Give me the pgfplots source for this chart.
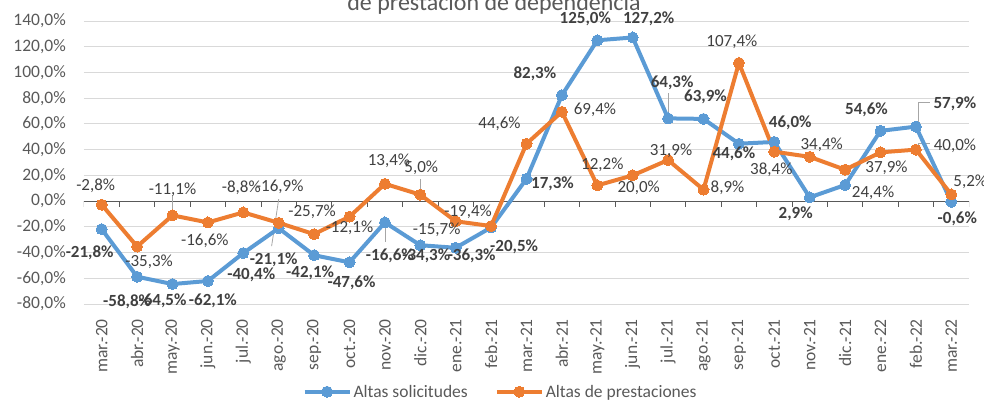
\documentclass[border=0pt]{standalone}
\usepackage{fontspec}
\setmainfont{Carlito}
\usepackage{pgfplots}
\usepackage{pgfplotstable}
\pgfplotsset{compat=1.18}
\definecolor{cblue}{HTML}{5B9BD5}
\definecolor{corange}{HTML}{ED7D31}
\definecolor{tgray}{HTML}{595959}
\definecolor{lgray}{HTML}{404040}
\definecolor{ggray}{HTML}{D9D9D9}
\definecolor{leader}{HTML}{A6A6A6}

\pgfplotstableread{
x y dx dy
0 -21.8 -12 -24
1 -58.8 -10 -25
2 -64.5 -10 -17
3 -62.1 5 -20
4 -40.4 8 -22
5 -21.1 -5 -32
6 -42.1 -4 -18
7 -47.6 2 -20
8 -16.6 5 -33
9 -34.3 6 -11
10 -36.3 16 -8
11 -20.5 23 -19
12 17.3 26 -5
13 82.3 -27 21
14 125.0 -12 22
15 127.2 16 19
16 64.3 4 36
17 63.9 2 22
18 44.6 -5 -10
19 46.0 16 19
20 2.9 -14 -16
21 12.5 0 0
22 54.6 -14 21
23 57.9 39 23
24 -0.6 6 -17
}\blueT

\pgfplotstableread{
x y dx dy
0 -2.8 -6 19
1 -35.3 12 -15
2 -11.1 0 26
3 -16.6 -3 -18
4 -8.8 -2 25
5 -16.9 1 36
6 -25.7 -2 22
7 -12.1 0 -11
8 13.4 4 23
9 5.0 1 27
10 -15.7 -19 -8
11 -19.4 -23 14
12 44.6 -27 20
13 69.4 33 2
14 12.2 5 21
15 20.0 6 -12
16 31.9 3 9
17 8.9 24 2
18 107.4 -7 21
19 38.4 -3 -18
20 34.4 12 12
21 24.4 28 -23
22 37.9 6 -15
23 40.0 39 4
24 5.2 19 13
}\orangeT

\newcommand{\fs}{\fontsize{17.5}{20}\selectfont}
\newcommand{\fl}{\fontsize{17}{20}\selectfont}

\begin{document}
\begin{tikzpicture}
\useasboundingbox (-84pt,-98pt) rectangle (900pt,304pt);
\clip (-84pt,-98pt) rectangle (900pt,304pt);
\begin{axis}[
  /pgf/number format/assume math mode=true,
  scale only axis,
  width=885pt, height=283pt,
  xmin=-0.5, xmax=24.5,
  ymin=-80, ymax=140,
  ytick={-80,-60,...,140},
  xtick={0,...,24},
  xticklabels={mar.-20,abr.-20,may.-20,jun.-20,jul.-20,ago.-20,sep.-20,oct.-20,nov.-20,dic.-20,ene.-21,feb.-21,mar.-21,abr.-21,may.-21,jun.-21,jul.-21,ago.-21,sep.-21,oct.-21,nov.-21,dic.-21,ene.-22,feb.-22,mar.-22},
  yticklabel={\pgfmathprintnumber[fixed,fixed zerofill,precision=1,use comma]{\tick}\%},
  ymajorgrids,
  grid style={ggray, line width=0.9pt},
  axis line style={draw=none},
  major tick length=0pt,
  tick label style={font=\fs, text=tgray, inner sep=0pt},
  xticklabel style={rotate=90, anchor=east},
  xticklabel shift=15pt,
  yticklabel shift=18pt,
  legend columns=2,
  legend style={at={(0.5,-0.310)}, anchor=center, xshift=-26pt, draw=none, fill=none,
    font=\fs, text=tgray, inner sep=0pt,
    /tikz/every even column/.append style={column sep=25pt}},
  legend image code/.code={\draw[mark repeat=2,mark phase=2,#1] plot coordinates {(0pt,0pt) (22.5pt,0pt) (45pt,0pt)};},
  lbl/.style={forget plot, draw=none, mark=none, point meta=y,
    nodes near coords={\pgfmathprintnumber[fixed,fixed zerofill,precision=1,use comma]{\pgfplotspointmeta}\%},
    visualization depends on={\thisrow{dx}\as\ldx},
    visualization depends on={\thisrow{dy}\as\ldy},
    every node near coord/.append style={text=lgray, anchor=center, inner sep=0pt, xshift=\ldx pt, yshift=\ldy pt}},
]
% zero axis line and tick marks
\draw[tgray, line width=1pt] (axis cs:-0.5,0) -- (axis cs:24.5,0);
\pgfplotsinvokeforeach{-0.5,0.5,...,24.5}{\draw[tgray, line width=1pt] (axis cs:#1,0) -- ++(0pt,-6pt);}
% leader lines
\draw[leader, line width=0.8pt] (axis cs:8,-20) -- (axis cs:8,-32);
\draw[leader, line width=0.8pt] (axis cs:2,4.6) -- (axis cs:2,-8.5);
\draw[leader, line width=0.8pt] (axis cs:5,1.5) -- (axis cs:4.8,-35);
\draw[leader, line width=0.8pt] (axis cs:9,17) -- (axis cs:9,7);
\draw[leader, line width=0.8pt] (axis cs:16,84) -- (axis cs:16,65);
\draw[leader, line width=0.8pt] (axis cs:23.06,61) -- (axis cs:23.06,76.4) -- (axis cs:23.4,76.4);
\draw[leader, line width=0.8pt] (axis cs:23.06,40.2) -- (axis cs:23.06,44.8) -- (axis cs:23.4,44.8);

\addplot[cblue, line width=4pt, mark=*, mark size=5.5pt, mark options={fill=cblue, draw=cblue, line width=0pt}]
  table[x=x, y=y] {\blueT};
\addlegendentry{Altas solicitudes}

\addplot[corange, line width=4pt, mark=*, mark size=5.5pt, mark options={fill=corange, draw=corange, line width=0pt}]
  table[x=x, y=y] {\orangeT};
\addlegendentry{Altas de prestaciones}

\addplot[lbl, skip coords between index={21}{22}, every node near coord/.append style={font=\fl\bfseries}]
  table[x=x, y=y] {\blueT};
\addplot[lbl, every node near coord/.append style={font=\fl}]
  table[x=x, y=y] {\orangeT};
\end{axis}
\node[anchor=base, font=\fontsize{24}{28}\selectfont, text=tgray] at (410pt,293.5pt) {de prestación de dependencia};
\end{tikzpicture}
\end{document}
